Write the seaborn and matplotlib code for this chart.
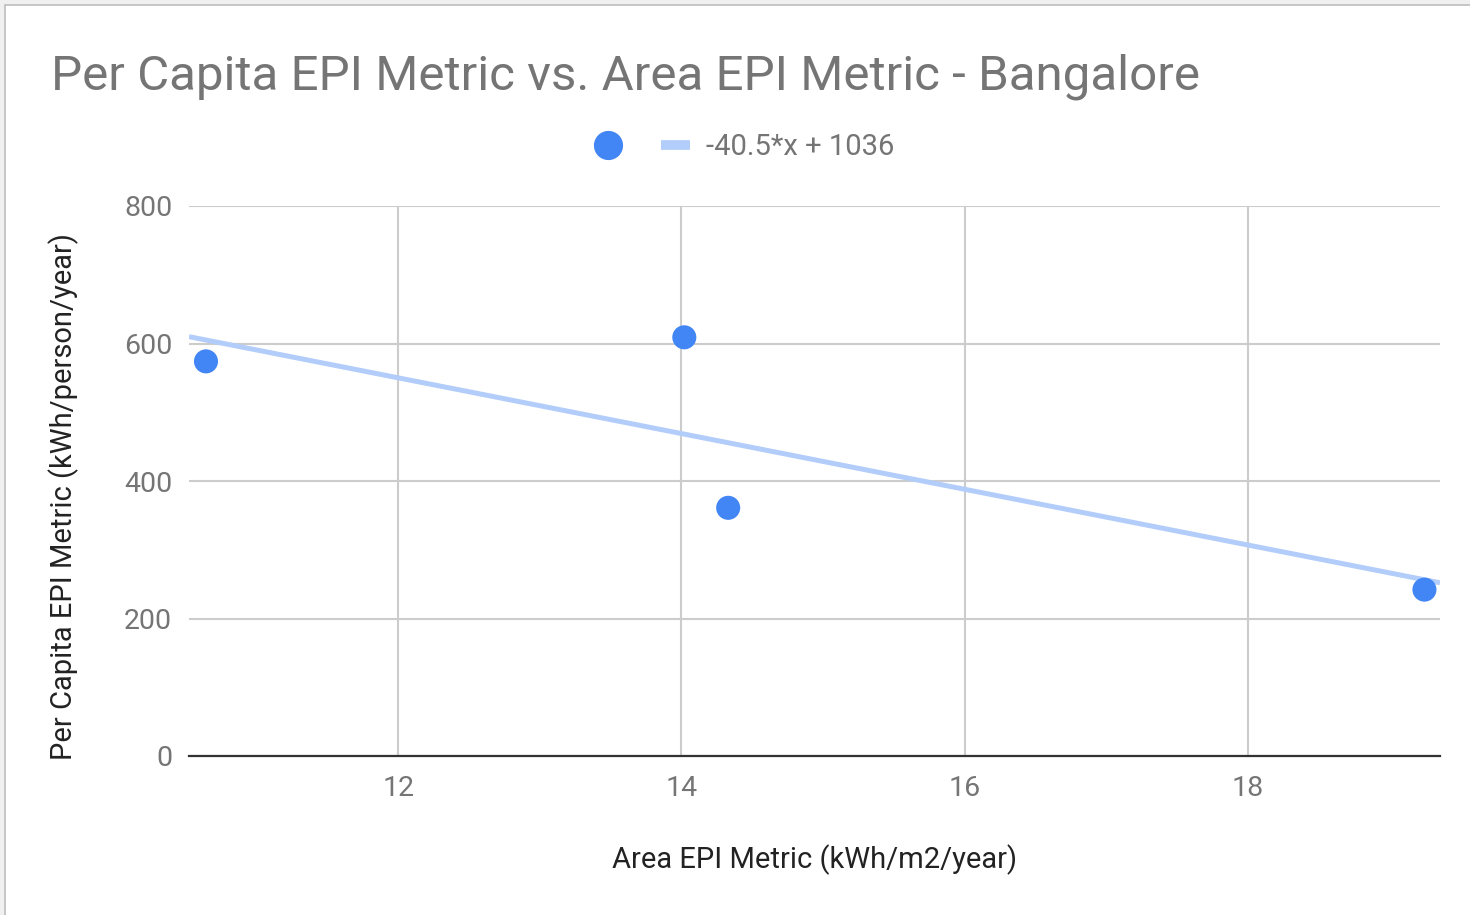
import matplotlib
matplotlib.use("Agg")
import matplotlib.pyplot as plt
import matplotlib.patches as mpatches
from matplotlib.lines import Line2D
import seaborn as sns
import pandas as pd

# ---- data ----
area_epi = [10.64, 14.02, 14.33, 19.25]
per_capita_epi = [574, 609, 361, 242]
trend_slope = -40.5
trend_intercept = 1036
trend_label = "-40.5*x + 1036"
x_ticks = [12, 14, 16, 18]
y_ticks = [0, 200, 400, 600, 800]
title = "Per Capita EPI Metric vs. Area EPI Metric - Bangalore"
x_label = "Area EPI Metric (kWh/m2/year)"
y_label = "Per Capita EPI Metric (kWh/person/year)"

df = pd.DataFrame({"x": area_epi, "y": per_capita_epi})

sns.set_theme(style="white")
plt.rcParams["font.family"] = ["Roboto", "DejaVu Sans"]

W, H = 1470, 915
fig = plt.figure(figsize=(W / 100, H / 100), dpi=100)
fig.patch.set_facecolor("#f0f0f0")
# white card with grey border
card = mpatches.Rectangle((5 / W, -0.01), 1.1, (H - 5) / H + 0.01,
                          transform=fig.transFigure, facecolor="white",
                          edgecolor="#bdbdbd", linewidth=1.2, zorder=-10)
fig.patches.append(card)

ax = fig.add_axes([189 / W, (H - 756) / H, (1440 - 189) / W, 550 / H])
ax.set_zorder(1)
ax.set_facecolor("none")
ax.set_xlim(10.52, 19.36)
ax.set_ylim(0, 800)

blue = "#4285F4"
trend_color = "#b3cdfa"

ax.axline((0, trend_intercept), slope=trend_slope, color=trend_color,
          linewidth=3.6, zorder=2, solid_capstyle="butt")
sns.scatterplot(data=df, x="x", y="y", ax=ax, color=blue, s=300,
                edgecolor="none", zorder=3, legend=False)

ax.set_xticks(x_ticks)
ax.set_yticks(y_ticks)
ax.grid(True, color="#cccccc", linewidth=1.5)
ax.set_axisbelow(True)
for side in ["top", "right", "left"]:
    ax.spines[side].set_visible(False)
ax.spines["bottom"].set_color("#333333")
ax.spines["bottom"].set_linewidth(1.6)
ax.spines["bottom"].set_zorder(4)
ax.tick_params(axis="both", length=0, labelsize=20.5, colors="#757575")
ax.tick_params(axis="x", pad=14)
ax.tick_params(axis="y", pad=12)
ax.set_xlabel("")
ax.set_ylabel("")

fig.text(815 / W, 1 - 860 / H, x_label, ha="center", va="center",
         fontsize=21, color="#222222")
fig.text(64 / W, 1 - 496 / H, y_label, ha="center", va="center",
         rotation=90, fontsize=21, color="#222222")
fig.text(51 / W, 1 - 77 / H, title, ha="left", va="center",
         fontsize=35.5, color="#757575")

handles = [
    Line2D([], [], marker="o", linestyle="none", markersize=21,
           markerfacecolor=blue, markeredgecolor="none"),
    Line2D([], [], color=trend_color, linewidth=7, solid_capstyle="butt"),
]
leg = fig.legend(handles, ["", trend_label], loc="center",
                 bbox_to_anchor=(744 / W, 1 - 147 / H), ncol=2, frameon=False,
                 fontsize=21, handlelength=1.0, handletextpad=0.55,
                 columnspacing=0.75, labelcolor="#757575")

fig.savefig("out.png", dpi=100, facecolor=fig.get_facecolor())
